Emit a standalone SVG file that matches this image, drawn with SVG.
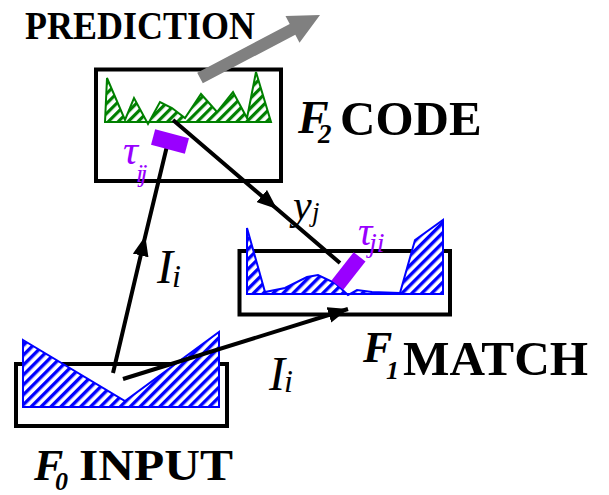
<svg xmlns="http://www.w3.org/2000/svg" width="609" height="495" viewBox="0 0 609 495">
<style>
.box{fill:none;stroke:#000;stroke-width:4}
.con{fill:none;stroke:#000;stroke-width:4}
.syn{fill:#9900ff}
.lbl{font-family:"Liberation Serif","Times New Roman",serif;fill:#000}
.b{font-weight:bold}
.bi{font-weight:bold;font-style:italic}
.it{font-style:italic}
.pur{fill:#9900ff}
</style>
<defs>
<pattern id="hb" patternUnits="userSpaceOnUse" width="7" height="7" patternTransform="rotate(45)">
<rect width="7" height="7" fill="#fff"/><rect width="3.4" height="7" fill="#0000ff"/>
</pattern>
<pattern id="hg" patternUnits="userSpaceOnUse" width="7" height="7" patternTransform="rotate(45)">
<rect width="7" height="7" fill="#fff"/><rect width="3.2" height="7" fill="#008000"/>
</pattern>
<marker id="ah" viewBox="0 0 20 16" markerWidth="20" markerHeight="16" refX="20" refY="8" orient="auto" markerUnits="userSpaceOnUse">
<path d="M0,0 L20,8 L0,16 z" fill="#000"/>
</marker>
</defs>
<rect width="609" height="495" fill="#fff"/>

<g id="f2">
<rect class="box" x="96" y="69.5" width="185" height="111.5"/>
<polygon points="105,122 107,78 125,120 134,98 148,124 160,102 172,108 185,118 201,94 217,112 233,92 247,118 256,72 271,122" fill="url(#hg)" stroke="#008000" stroke-width="2"/>
<text class="lbl bi" x="298" y="133" font-size="46">F</text>
<text class="lbl bi" x="318" y="143" font-size="27">2</text>
<text class="lbl b" x="340" y="135" font-size="49">CODE</text>
</g>

<g id="f1">
<rect class="box" x="239.5" y="251" width="210.5" height="63.5"/>
<polygon points="247,294 247,228 265,292 285,288 307,277 318,275 335,283 348,295 357,290 372,292 400,293 415,240 443,220 443,294" fill="url(#hb)" stroke="#0000ff" stroke-width="2"/>
<text class="lbl bi" x="363" y="362" font-size="44">F</text>
<text class="lbl bi" x="386" y="379" font-size="26">1</text>
<text class="lbl b" x="403" y="375" font-size="49" textLength="185" lengthAdjust="spacingAndGlyphs">MATCH</text>
</g>

<g id="f0">
<rect class="box" x="16" y="364" width="211" height="62"/>
<polygon points="23,340 125,401 219,332 219,407 23,407" fill="url(#hb)" stroke="#0000ff" stroke-width="2"/>
<text class="lbl bi" x="34" y="480" font-size="44">F</text>
<text class="lbl bi" x="55" y="490" font-size="26">0</text>
<text class="lbl b" x="79" y="480" font-size="44" textLength="154" lengthAdjust="spacingAndGlyphs">INPUT</text>
</g>

<g id="prediction">
<polygon points="197.2,72.7 289.7,24.1 285.5,16.1 320,15 299.5,42.7 295.3,34.7 202.8,83.3" fill="#808080"/>
<text class="lbl b" x="25" y="39" font-size="39" textLength="230" lengthAdjust="spacingAndGlyphs">PREDICTION</text>
</g>

<g id="connectors">
<path class="con" d="M113,373 L145.3,236 L167,146" marker-mid="url(#ah)"/>
<path class="con" d="M173,120 L277,209 L340,263" marker-mid="url(#ah)"/>
<path class="con" d="M123,379 L348,309" marker-end="url(#ah)"/>
</g>

<g id="synapses">
<rect class="syn" x="-17.5" y="-8" width="35" height="16" transform="translate(170,141.5) rotate(15)"/>
<rect class="syn" x="-18" y="-7.5" width="36" height="15" transform="translate(348.5,271) rotate(-52)"/>
</g>

<g id="labels">
<text class="lbl it pur" x="123" y="164" font-size="42">τ</text>
<text class="lbl it pur" x="136" y="182" font-size="26" letter-spacing="-3">ij</text>
<text class="lbl it pur" x="358" y="245" font-size="40">τ</text>
<text class="lbl it pur" x="369" y="252" font-size="28">ji</text>
<text class="lbl it" x="293" y="219" font-size="42">y</text>
<text class="lbl it" x="312" y="221" font-size="27">j</text>
<text class="lbl it" x="157" y="283" font-size="48">I</text>
<text class="lbl it" x="172" y="287" font-size="32">i</text>
<text class="lbl it" x="269" y="390" font-size="48">I</text>
<text class="lbl it" x="284" y="392" font-size="32">i</text>
</g>
</svg>
